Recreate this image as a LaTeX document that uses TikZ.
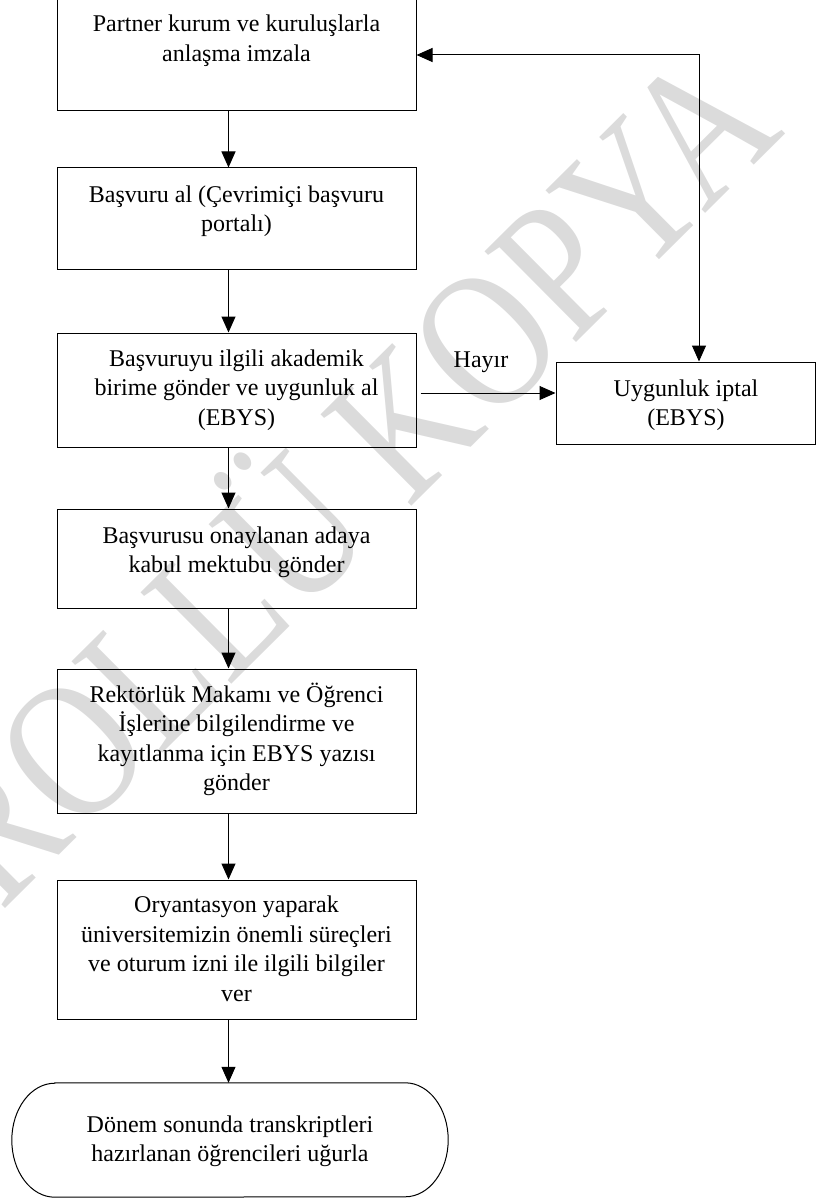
\documentclass[tikz,border=0pt]{standalone}
\usepackage{fontspec}
\setmainfont{Liberation Serif}
\usetikzlibrary{arrows.meta}
\AtBeginDocument{\lineskiplimit=-100pt\relax}
\begin{document}
\begin{tikzpicture}[x=1pt,y=1pt,
  box/.style={draw=black, line width=1pt, inner sep=0pt, rectangle},
  txt/.style={font=\fontsize{24}{29.5}\selectfont, align=center, inner sep=0pt},
  arr/.style={line width=1pt, -{Triangle[length=16pt,width=14pt]}},
  wm/.style={text=black!14, font=\fontsize{160}{170}\selectfont, inner sep=0pt, anchor=base, rotate=44.8, yscale=1.23}]
\useasboundingbox (0,0) rectangle (819,-1198);
\clip (0,0) rectangle (819,-1198);
% watermark
\node[wm] (wmk) at (236.4,-679.6) {KONTROLLÜ KOPYA};
% boxes
\node[box, minimum width=359pt, minimum height=141pt] (b1) at (236.5,-40.5) {};
\node[box, minimum width=359pt, minimum height=101pt] (b2) at (236.5,-218.5) {};
\node[box, minimum width=359pt, minimum height=114pt] (b3) at (236.5,-390) {};
\node[box, minimum width=359pt, minimum height=99pt] (b4) at (236.5,-558.5) {};
\node[box, minimum width=359pt, minimum height=144pt] (b5) at (236.5,-741) {};
\node[box, minimum width=359pt, minimum height=139pt] (b6) at (236.5,-949.5) {};
\node[box, minimum width=259pt, minimum height=82pt] (bu) at (685.5,-403) {};
\node[inner sep=0pt, minimum width=436pt, minimum height=114pt] (term) at (230,-1140) {};
\draw[line width=1pt] ([xshift=43pt]term.north west) -- ([xshift=-43pt]term.north east)
  arc[start angle=90, end angle=-90, x radius=43pt, y radius=57pt]
  -- ([xshift=43pt]term.south west)
  arc[start angle=270, end angle=90, x radius=43pt, y radius=57pt] -- cycle;
% texts
\node[txt] (t1) at (236.5,-40.5) {\strut Partner kurum ve kuruluşlarla\strut\\\strut anlaşma imzala\strut};
\node[txt] (t2) at (236.5,-211) {\strut Başvuru al (Çevrimiçi başvuru\strut\\\strut portalı)\strut};
\node[txt] (t3) at (236.5,-390) {\strut Başvuruyu ilgili akademik\strut\\\strut birime gönder ve uygunluk al\strut\\\strut (EBYS)\strut};
\node[txt] (t4) at (236.5,-552) {\strut Başvurusu onaylanan adaya\strut\\\strut kabul mektubu gönder\strut};
\node[txt] (t5) at (236.5,-740.5) {\strut Rektörlük Makamı ve Öğrenci\strut\\\strut İşlerine bilgilendirme ve\strut\\\strut kayıtlanma için EBYS yazısı\strut\\\strut gönder\strut};
\node[txt] (t6) at (236.5,-951) {\strut Oryantasyon yaparak\strut\\\strut üniversitemizin önemli süreçleri\strut\\\strut ve oturum izni ile ilgili bilgiler\strut\\\strut ver\strut};
\node[txt] (tu) at (686,-405) {\strut Uygunluk iptal\strut\\\strut (EBYS)\strut};
\node[txt] (tt) at (230,-1141) {\strut Dönem sonunda transkriptleri\strut\\\strut hazırlanan öğrencileri uğurla\strut};
\node[txt] (hayir) at (481,-362) {\strut Hayır\strut};
% connectors
\coordinate (ax) at (228.5,0);
\draw[arr] (b1.south -| ax) -- (b2.north -| ax);
\draw[arr] (b2.south -| ax) -- (b3.north -| ax);
\draw[arr] (b3.south -| ax) -- (b4.north -| ax);
\draw[arr] (b4.south -| ax) -- (b5.north -| ax);
\draw[arr] (b5.south -| ax) -- (b6.north -| ax);
\draw[arr] (b6.south -| ax) -- (term.north -| ax);
\coordinate (hy) at (0,-393);
\draw[arr] ([xshift=4pt]b3.east |- hy) -- (bu.west |- hy);
\coordinate (fx) at (699,0);
\coordinate (fy) at (0,-55);
\draw[line width=1pt, {Triangle[length=16pt,width=14pt]}-{Triangle[length=16pt,width=14pt]}] (b1.east |- fy) -- (fx |- fy) -- (bu.north -| fx);
\end{tikzpicture}
\end{document}
